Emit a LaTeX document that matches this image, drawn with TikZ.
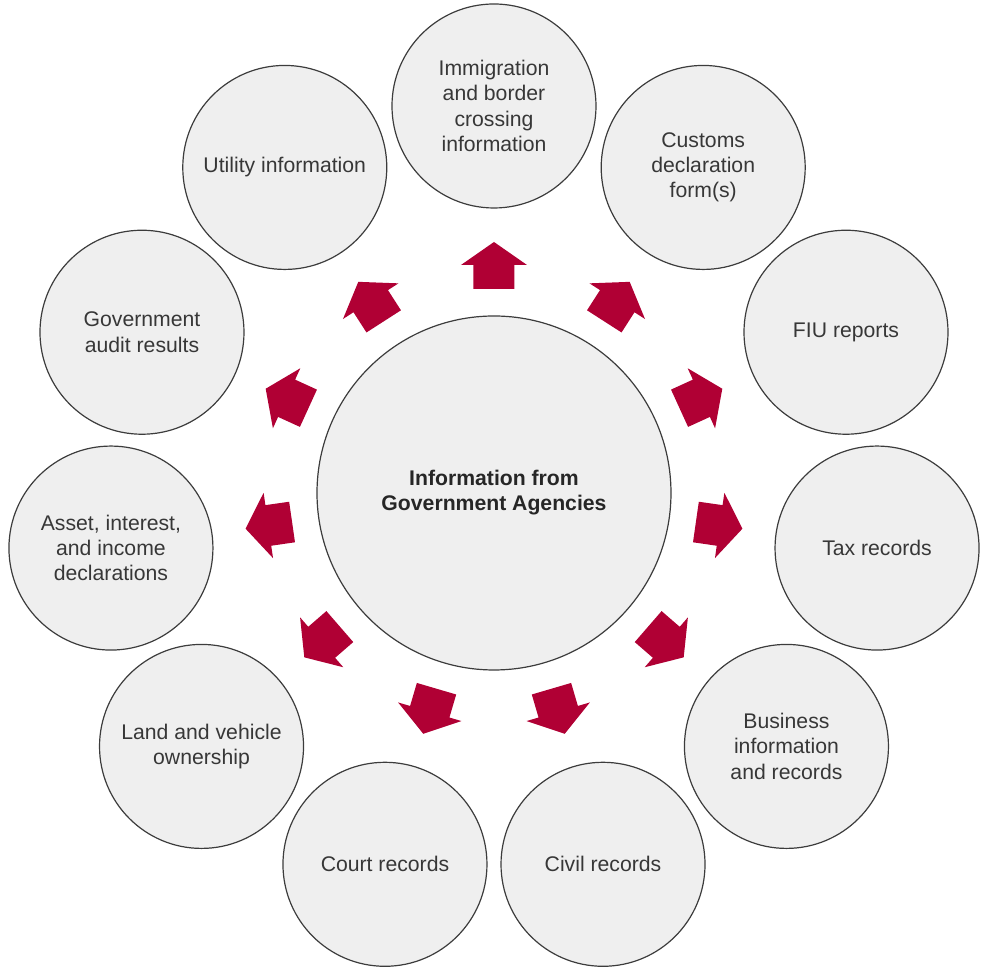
\documentclass[tikz,border=0pt]{standalone}
\usepackage{fontspec}
\setmainfont{Liberation Sans}
\usetikzlibrary{calc}

\definecolor{arrowred}{RGB}{176,0,52}
\definecolor{discfill}{RGB}{239,239,239}
\definecolor{discline}{RGB}{60,60,60}
\definecolor{textgray}{RGB}{55,55,55}

\tikzset{
	disc/.style = {circle, draw=discline, line width=0.6pt, fill=discfill, align=center,
		inner sep=0pt, text=textgray, font=\fontsize{10.6}{12.65}\selectfont},
	outerdisc/.style = {disc, minimum size=102pt},
	hubdisc/.style = {disc, minimum size=177pt, text=black!85, font=\fontsize{10.6}{12.5}\selectfont\bfseries},
}

\begin{document}
\begin{tikzpicture}[x=0.5pt, y=0.5pt]
	\def\ring{387}
	\def\tail{204}
	\def\neck{228}
	\def\tip{251}
	\useasboundingbox (-494, -474) rectangle (487, 493);

	\node[hubdisc] (hub) at (0, 0) {Information from\\Government Agencies};

	\foreach \name/\txt [count = \k from 0] in {
			immig/{Immigration\\and border\\crossing\\information},
			customs/{Customs\\declaration\\form(s)},
			fiu/{FIU reports},
			tax/{Tax records},
			business/{Business\\information\\and records},
			civil/{Civil records},
			court/{Court records},
			land/{Land and vehicle\\ownership},
			asset/{Asset, interest,\\and income\\declarations},
			audit/{Government\\audit results},
			utility/{Utility information}} {
			\node[outerdisc] (\name) at ({90 - \k*360/11}:\ring) {\txt};
			\fill[arrowred, rotate = {90 - \k*360/11}]
				(\tail, -20.5) -- (\neck, -20.5) -- (\neck, -33) -- (\tip, 0)
				-- (\neck, 33) -- (\neck, 20.5) -- (\tail, 20.5) -- cycle;
		}
\end{tikzpicture}
\end{document}
